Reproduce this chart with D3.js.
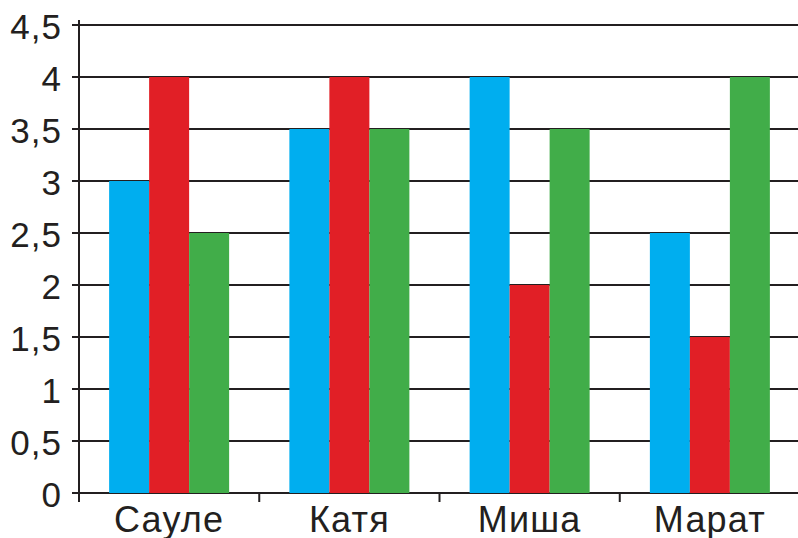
<!DOCTYPE html>
<html>
<head>
<meta charset="utf-8">
<script src="https://cdn.jsdelivr.net/npm/d3@7"></script>
<style>
  html, body { margin: 0; padding: 0; background: #fff; }
  svg { display: block; }
  text { font-family: "Liberation Sans", Arial, sans-serif; fill: #231f20; }
</style>
</head>
<body>
<svg id="chart" width="798" height="538"></svg>
<script>
// Marks per pupil for three subjects
const names = ["Сауле", "Катя", "Миша", "Марат"];
const seriesBlue = [3, 3.5, 4, 2.5];
const seriesRed = [4, 4, 2, 1.5];
const seriesGreen = [2.5, 3.5, 3.5, 4];
const yTicks = [0, 0.5, 1, 1.5, 2, 2.5, 3, 3.5, 4, 4.5];
const colors = ["#00aeef", "#e11f26", "#41ad49"];

const series = [seriesBlue, seriesRed, seriesGreen];

const svg = d3.select("#chart");
const plotLeft = 79, plotRight = 800, plotTop = 25, plotBottom = 493;

const x = d3.scaleBand().domain(names).range([plotLeft, plotRight]).paddingInner(0).paddingOuter(0);
const sub = d3.scaleBand().domain(d3.range(series.length)).range([0, 120]);
const y = d3.scaleLinear().domain([0, 4.5]).range([plotBottom, plotTop]);

// Horizontal grid lines with left ticks
svg.append("g")
  .selectAll("line")
  .data(yTicks)
  .join("line")
  .attr("x1", plotLeft - 7)
  .attr("x2", 798)
  .attr("y1", d => y(d))
  .attr("y2", d => y(d))
  .attr("stroke", "#231f20")
  .attr("stroke-width", 2.2);

// Bars
const groups = svg.append("g")
  .selectAll("g")
  .data(names)
  .join("g")
  .attr("transform", d => `translate(${x(d) + (x.bandwidth() - 120) / 2},0)`);

groups.selectAll("rect")
  .data((d, i) => series.map((s, k) => ({ k, v: s[i] })))
  .join("rect")
  .attr("x", d => sub(d.k))
  .attr("width", sub.bandwidth())
  .attr("y", d => y(d.v))
  .attr("height", d => y(0) - y(d.v))
  .attr("fill", d => colors[d.k]);

// Y axis
const yAxis = d3.axisLeft(y).tickValues(yTicks).tickSize(0).tickPadding(17)
  .tickFormat(d => d3.format("")(d).replace(".", ","));
const ya = svg.append("g").attr("transform", `translate(${plotLeft},0)`).call(yAxis);
ya.select(".domain").remove();
ya.selectAll("text").attr("font-size", 35).attr("dy", "0.38em")
  .attr("letter-spacing", 1)
  .attr("font-family", "Liberation Sans, Arial, sans-serif").attr("fill", "#231f20");

svg.append("line")
  .attr("x1", plotLeft).attr("x2", plotLeft)
  .attr("y1", 20).attr("y2", plotBottom + 9)
  .attr("stroke", "#231f20").attr("stroke-width", 2);

// Category separators below the baseline
svg.append("g")
  .selectAll("line")
  .data(names.slice(1))
  .join("line")
  .attr("x1", d => x(d)).attr("x2", d => x(d))
  .attr("y1", plotBottom).attr("y2", plotBottom + 9)
  .attr("stroke", "#231f20").attr("stroke-width", 2);

// Category labels
svg.append("g")
  .selectAll("text")
  .data(names)
  .join("text")
  .attr("x", d => x(d) + x.bandwidth() / 2)
  .attr("y", 532)
  .attr("text-anchor", "middle")
  .attr("font-size", 36)
  .attr("letter-spacing", 1.2)
  .text(d => d);
</script>
</body>
</html>
